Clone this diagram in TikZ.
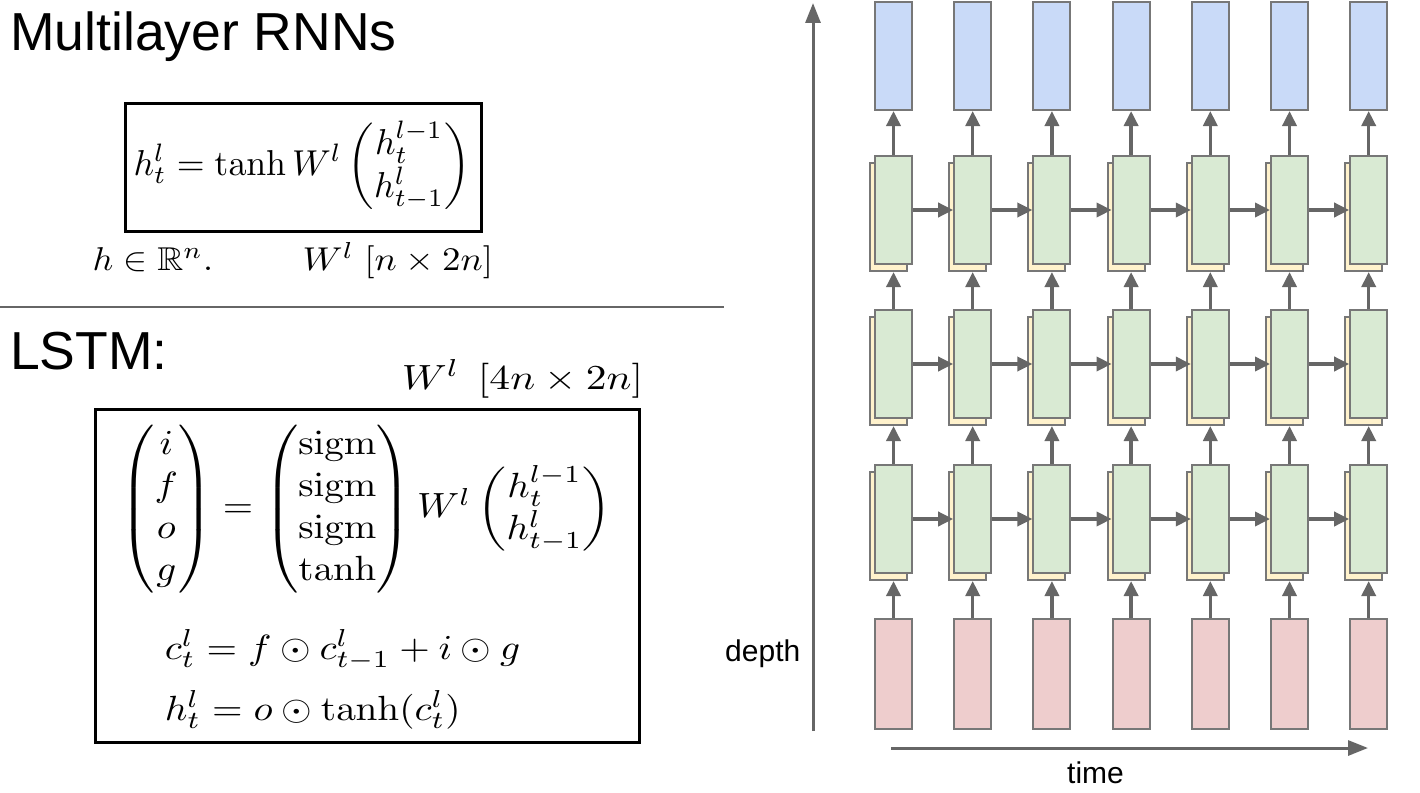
\documentclass[tikz,border=0pt]{standalone}
\usepackage{amsmath,amssymb}
\usepackage[no-math]{fontspec}
\newfontfamily\arial{Liberation Sans}
\usetikzlibrary{arrows.meta}
\definecolor{cblue}{HTML}{C9DAF8}
\definecolor{cgreen}{HTML}{D9EAD3}
\definecolor{cyellow}{HTML}{FFF2CC}
\definecolor{cpink}{HTML}{EECDCD}
\definecolor{cstroke}{HTML}{777777}
\definecolor{carrow}{HTML}{666666}
\tikzset{
  cell/.style={draw=cstroke, line width=2pt, minimum width=37pt, minimum height=108pt, inner sep=0pt, anchor=north west},
  arr/.style={draw=carrow, line width=3.5pt, -{Triangle[length=15pt,width=14pt]}},
  axis/.style={draw=carrow, line width=3pt, -{Triangle[length=20pt,width=15pt]}},
  eqbox/.style={draw=black, line width=3pt},
  title/.style={font=\arial\fontsize{53.5}{60}\selectfont, anchor=base west, inner sep=0pt},
  lab/.style={font=\arial\fontsize{30}{36}\selectfont, inner sep=0pt},
  mth/.style 2 args={inner sep=0pt, transform shape, xscale=#1, yscale=#2},
}
\begin{document}
\begin{tikzpicture}[x=1pt,y=-1pt]
\useasboundingbox (0,0) rectangle (1420,792);
% left side
\node[title] (t1) at (10,51) {Multilayer RNNs};
\draw[eqbox] (125,103) rectangle (481,231);
\node[mth={3.58}{3.6}] (e1) at (302,166) {$h_t^l = \tanh W^l \begin{pmatrix} h_t^{l-1} \\ h_{t-1}^l \end{pmatrix}$};
\node[mth={3.6}{3.3}, anchor=base west] (hr) at (92,270) {$h \in \mathbb{R}^n.$};
\node[mth={3.7}{3.3}, anchor=base west] (w1) at (302,270) {$W^l\; [n \times 2n]$};
\draw[draw=carrow, line width=2pt] (0,307) -- (724,307);
\node[title] (t2) at (10,369) {LSTM:};
\node[mth={4.15}{3.5}, anchor=base west] (w2) at (401,389) {$W^l\;\, [4n \times 2n]$};
\draw[eqbox] (95,409) rectangle (639,742);
\node[mth={3.9}{3.5}] (e2) at (366,509) {$\begin{pmatrix} i \\ f \\ o \\ g \end{pmatrix} = \begin{pmatrix} \mathrm{sigm} \\ \mathrm{sigm} \\ \mathrm{sigm} \\ \tanh \end{pmatrix} W^l \begin{pmatrix} h_t^{l-1} \\ h_{t-1}^l \end{pmatrix}$};
\node[mth={3.93}{3.5}, anchor=base west] (e3) at (164,659) {$c_t^l = f \odot c_{t-1}^l + i \odot g$};
\node[mth={3.93}{3.5}, anchor=base west] (e4) at (164,720) {$h_t^l = o \odot \tanh(c_t^l)$};
% right side
\foreach \i in {0,...,6} {
  \pgfmathsetmacro{\xx}{874+\i*79.2}
  \node[cell, fill=cblue] (b\i) at (\xx,1) {};
  \foreach \r/\yy in {1/155, 2/309, 3/464} {
    \node[cell, fill=cyellow] (y\r\i) at (\xx-5,\yy+7) {};
    \node[cell, fill=cgreen] (g\r\i) at (\xx,\yy) {};
  }
  \node[cell, fill=cpink, minimum height=110pt] (p\i) at (\xx,618) {};
}
\foreach \i in {0,...,6} {
  \draw[arr] (g1\i.north) -- (b\i.south);
  \draw[arr] (g2\i.north) -- (g2\i.north |- y1\i.south);
  \draw[arr] (g3\i.north) -- (g3\i.north |- y2\i.south);
  \draw[arr] (p\i.north) -- (p\i.north |- y3\i.south);
}
\foreach \i [evaluate=\i as \j using int(\i+1)] in {0,...,5} {
  \foreach \r in {1,2,3} {
    \draw[arr] (g\r\i.east) -- (g\r\j.west);
  }
}
\coordinate (d0) at (813,731);
\coordinate (d1) at (813,3);
\draw[axis] (d0) -- (d1);
\coordinate (h0) at (891,748);
\coordinate (h1) at (1368,748);
\draw[axis] (h0) -- (h1);
\node[lab, anchor=base west] (dl) at (725,661) {depth};
\node[lab, anchor=base west] (tl) at (1067,783) {time};
\end{tikzpicture}
\end{document}
